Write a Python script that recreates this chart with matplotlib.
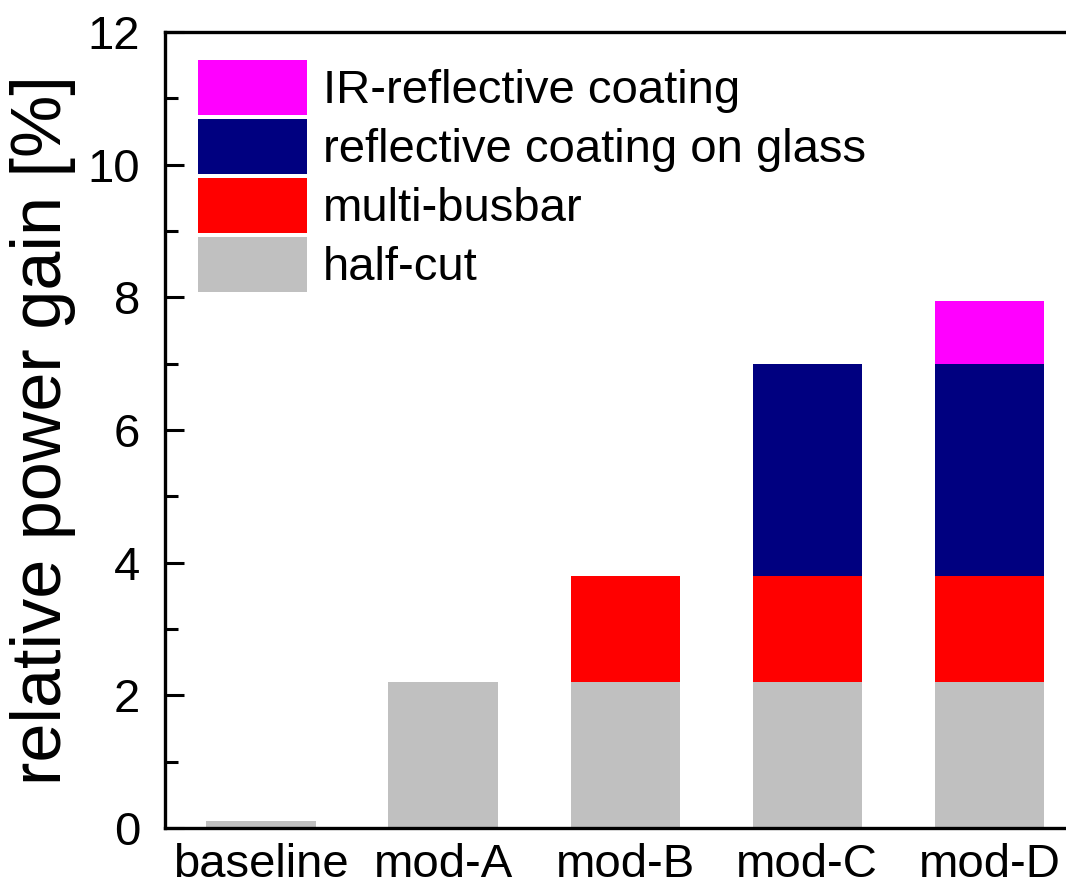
import numpy as np
import matplotlib
matplotlib.use('Agg')
import matplotlib.pyplot as plt

plt.rcParams['font.family'] = ['Liberation Sans', 'DejaVu Sans']

# module variants and the gain contributed by each measure (percent)
modules = ['baseline', 'mod-A', 'mod-B', 'mod-C', 'mod-D']
half_cut = [0.1, 2.2, 2.2, 2.2, 2.2]
multi_busbar = [0.0, 0.0, 1.6, 1.6, 1.6]
glass_coating = [0.0, 0.0, 0.0, 3.2, 3.2]
ir_coating = [0.0, 0.0, 0.0, 0.0, 0.95]

layers = [
    ('half-cut', half_cut, '#c0c0c0'),
    ('multi-busbar', multi_busbar, '#ff0000'),
    ('reflective coating on glass', glass_coating, '#000080'),
    ('IR-reflective coating', ir_coating, '#ff00ff'),
]

fig = plt.figure(figsize=(10.66, 8.91), dpi=100)
ax = fig.add_axes([165 / 1066, 63 / 891, 901 / 1066, 796 / 891])

x = np.arange(len(modules))
bottom = np.zeros(len(modules))
handles = []
for name, vals, col in layers:
    vals = np.array(vals)
    b = ax.bar(x, vals, width=0.6, bottom=bottom, color=col, label=name,
               linewidth=0)
    handles.append(b)
    bottom += vals

ax.set_xlim(-0.527, 4.421)
ax.set_ylim(0, 12)
ax.set_yticks(np.arange(0, 13, 2))
ax.set_yticks(np.arange(1, 12, 2), minor=True)
ax.set_xticks(x)
ax.set_xticklabels(modules)

ax.tick_params(axis='y', which='major', direction='in', length=14, width=2.2,
               labelsize=34, pad=18)
ax.tick_params(axis='y', which='minor', direction='in', length=9, width=2.2)
ax.tick_params(axis='x', which='both', length=0, labelsize=34, pad=11)

for side in ['left', 'top', 'bottom']:
    ax.spines[side].set_linewidth(2.4)
ax.spines['right'].set_visible(False)

ax.set_ylabel('relative power gain [%]', fontsize=50.5, labelpad=8)

leg = ax.legend(handles[::-1], [l[0] for l in layers][::-1],
                loc='upper left', bbox_to_anchor=(0.0366, 0.965),
                frameon=False, fontsize=34, borderpad=0, borderaxespad=0,
                handlelength=2.3, handleheight=1.42, labelspacing=0.08,
                handletextpad=0.34)

fig.savefig('out.png', dpi=100)
